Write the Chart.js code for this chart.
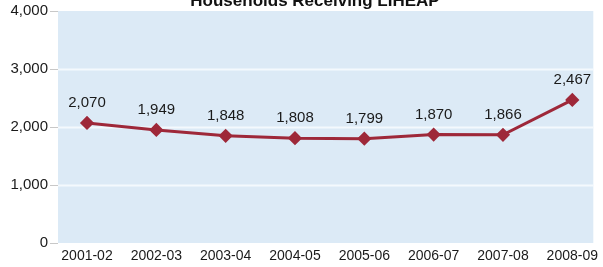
<!DOCTYPE html>
<html>
<head>
<meta charset="utf-8">
<script src="https://cdn.jsdelivr.net/npm/chart.js@4"></script>
<style>
  html, body { margin: 0; padding: 0; background: #fff; }
  #wrap { width: 603px; height: 267px; position: relative; }
</style>
</head>
<body>
<div id="wrap"><canvas id="lihChart"></canvas></div>
<script>
const seasons = ['2001-02', '2002-03', '2003-04', '2004-05', '2005-06', '2006-07', '2007-08', '2008-09'];
const households = [2070, 1949, 1848, 1808, 1799, 1870, 1866, 2467];
const yTicks = [0, 1000, 2000, 3000, 4000];
const chartTitle = 'Households Receiving LIHEAP';

const FONT = '"Liberation Sans", Arial, sans-serif';

// light blue panel + white grid lines, wider than the line area
const panelPlugin = {
  id: 'panel',
  beforeDraw(chart) {
    const { ctx, chartArea: a, scales: { y } } = chart;
    const left = a.left - 29, right = a.right + 21;
    ctx.save();
    ctx.fillStyle = '#dceaf6';
    ctx.fillRect(left, a.top, right - left, a.bottom - a.top);
    ctx.strokeStyle = '#f4f9fd';
    ctx.lineWidth = 2;
    yTicks.slice(1, -1).forEach(v => {
      const py = Math.round(y.getPixelForValue(v)) + 0.5;
      ctx.beginPath(); ctx.moveTo(left, py); ctx.lineTo(right, py); ctx.stroke();
    });
    ctx.strokeStyle = '#c8c8c8';
    ctx.lineWidth = 1;
    yTicks.forEach(v => {
      const py = Math.round(y.getPixelForValue(v)) + 0.5;
      ctx.beginPath(); ctx.moveTo(left - 8, py); ctx.lineTo(left, py); ctx.stroke();
    });
    ctx.restore();
  },
  afterDraw(chart) {
    const { ctx } = chart;
    ctx.save();
    ctx.fillStyle = '#111';
    ctx.font = 'bold 17px ' + FONT;
    ctx.textAlign = 'center';
    ctx.textBaseline = 'alphabetic';
    ctx.fillText(chartTitle, 315, 6);
    // value labels
    ctx.font = '15px ' + FONT;
    ctx.fillStyle = '#1a1a1a';
    const meta = chart.getDatasetMeta(0);
    meta.data.forEach((pt, i) => {
      ctx.fillText(households[i].toLocaleString('en-US'), pt.x, pt.y - 16);
    });
    ctx.restore();
  }
};

new Chart(document.getElementById('lihChart'), {
  type: 'line',
  data: {
    labels: seasons,
    datasets: [{
      data: households,
      borderColor: '#9e2839',
      backgroundColor: '#9e2839',
      borderWidth: 3,
      pointStyle: 'rectRot',
      pointRadius: 5,
      pointHoverRadius: 5,
      tension: 0,
      fill: false
    }]
  },
  options: {
    responsive: true,
    maintainAspectRatio: false,
    animation: false,
    layout: { padding: { top: 3, right: 23, bottom: 0, left: 0 } },
    plugins: { legend: { display: false }, tooltip: { enabled: false } },
    scales: {
      x: {
        offset: false,
        afterFit(scale) { scale.height = 24; },
        grid: { display: false, drawTicks: false },
        border: { display: false },
        ticks: { color: '#1a1a1a', font: { family: FONT, size: 14 }, padding: 5, maxRotation: 0, autoSkip: false }
      },
      y: {
        min: 0, max: 4000,
        afterFit(scale) { scale.width = 87; },
        grid: { display: false, drawTicks: true, tickLength: 37 },
        border: { display: false },
        afterBuildTicks(scale) { scale.ticks = yTicks.map(v => ({ value: v })); },
        ticks: {
          color: '#1a1a1a',
          font: { family: FONT, size: 15 },
          padding: 2,
          callback: v => v.toLocaleString('en-US')
        }
      }
    }
  },
  plugins: [panelPlugin]
});
</script>
</body>
</html>
